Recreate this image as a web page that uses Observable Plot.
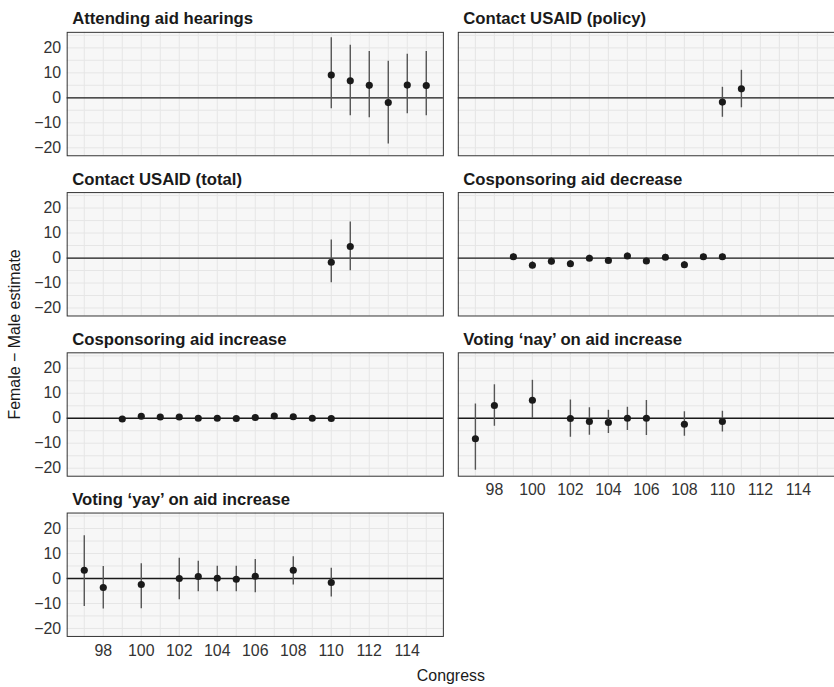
<!DOCTYPE html>
<html>
<head>
<meta charset="utf-8">
<script src="https://cdn.jsdelivr.net/npm/d3@7"></script>
<script src="https://cdn.jsdelivr.net/npm/@observablehq/plot@0.6"></script>
<style>
  html, body { margin: 0; padding: 0; background: #fff; overflow: hidden; }
</style>
</head>
<body>
<div id="chart"></div>
<script>
// ---- Data ----
const titles = [
  "Attending aid hearings",
  "Contact USAID (policy)",
  "Contact USAID (total)",
  "Cosponsoring aid decrease",
  "Cosponsoring aid increase",
  "Voting \u2018nay\u2019 on aid increase",
  "Voting \u2018yay\u2019 on aid increase"
];

const hearingsCongress = [110, 111, 112, 113, 114, 115];
const hearingsEst = [9.1, 6.8, 5.0, -1.9, 5.1, 4.9];
const hearingsLo  = [-4.4, -7.2, -8.0, -18.5, -6.4, -7.2];
const hearingsHi  = [24.0, 21.0, 18.5, 14.6, 17.4, 18.5];

const policyCongress = [110, 111];
const policyEst = [-1.7, 3.6];
const policyLo  = [-7.8, -4.0];
const policyHi  = [4.2, 11.0];

const totalCongress = [110, 111];
const totalEst = [-1.7, 4.6];
const totalLo  = [-9.9, -5.1];
const totalHi  = [7.2, 14.4];

const decreaseCongress = [99, 100, 101, 102, 103, 104, 105, 106, 107, 108, 109, 110];
const decreaseEst = [0.5, -2.9, -1.3, -2.3, -0.1, -1.0, 0.8, -1.2, 0.3, -2.7, 0.5, 0.5];
const decreaseLo  = [-0.8, -4.3, -2.8, -3.6, -1.3, -2.2, -0.5, -2.4, -0.9, -4.0, -0.7, -0.6];
const decreaseHi  = [1.7, -1.5, 0.2, -1.0, 1.1, 0.2, 2.0, 0.0, 1.5, -1.4, 1.6, 1.6];

const increaseCongress = [99, 100, 101, 102, 103, 104, 105, 106, 107, 108, 109, 110];
const increaseEst = [-0.3, 0.8, 0.5, 0.5, 0.0, 0.0, -0.1, 0.3, 0.9, 0.6, 0.0, -0.1];
const increaseLo  = [-1.1, 0.0, -0.3, -0.3, -0.8, -0.8, -0.9, -0.5, 0.1, -0.2, -0.8, -0.9];
const increaseHi  = [0.5, 1.6, 1.3, 1.3, 0.8, 0.8, 0.7, 1.1, 1.7, 1.4, 0.8, 0.7];

const nayCongress = [97, 98, 100, 102, 103, 104, 105, 106, 108, 110];
const nayEst = [-8.2, 5.1, 7.2, -0.1, -1.3, -1.7, 0.0, 0.0, -2.4, -1.3];
const nayLo  = [-20.8, -3.2, -0.1, -7.6, -6.8, -6.1, -4.9, -6.9, -7.2, -5.5];
const nayHi  = [5.7, 13.4, 15.2, 7.3, 4.2, 3.2, 4.4, 7.1, 2.6, 2.8];

const yayCongress = [97, 98, 100, 102, 103, 104, 105, 106, 108, 110];
const yayEst = [3.3, -3.6, -2.4, 0.0, 0.8, 0.1, -0.3, 0.9, 3.3, -1.6];
const yayLo  = [-11.2, -12.2, -12.1, -8.5, -5.3, -5.3, -5.3, -5.7, -2.6, -7.4];
const yayHi  = [17.1, 4.8, 5.9, 8.1, 6.9, 4.9, 4.9, 7.6, 8.7, 4.1];

const xTicks = [98, 100, 102, 104, 106, 108, 110, 112, 114];
const xGrid = [97, 98, 99, 100, 101, 102, 103, 104, 105, 106, 107, 108, 109, 110, 111, 112, 113, 114, 115];
const yTicks = [-20, -10, 0, 10, 20];
const yGrid = [-20, -15, -10, -5, 0, 5, 10, 15, 20, 25];

// ---- Build a long table for the library ----
const series = [
  [hearingsCongress, hearingsEst, hearingsLo, hearingsHi],
  [policyCongress, policyEst, policyLo, policyHi],
  [totalCongress, totalEst, totalLo, totalHi],
  [decreaseCongress, decreaseEst, decreaseLo, decreaseHi],
  [increaseCongress, increaseEst, increaseLo, increaseHi],
  [nayCongress, nayEst, nayLo, nayHi],
  [yayCongress, yayEst, yayLo, yayHi]
];
const rows = [];
series.forEach(([c, e, lo, hi], i) => {
  c.forEach((x, j) => rows.push({panel: i, col: i % 2, row: Math.floor(i / 2), congress: x, est: e[j], lo: lo[j], hi: hi[j]}));
});
const panelRows = titles.map((t, i) => ({title: t, col: i % 2, row: Math.floor(i / 2)}));

const minus = d => d < 0 ? "\u2212" + Math.abs(d) : String(d);

const chart = Plot.plot({
  width: 838,
  height: 687,
  marginLeft: 67,
  marginRight: 0,
  marginTop: 31.7,
  marginBottom: 47,
  style: {fontFamily: "'Liberation Sans', Arial, Helvetica, sans-serif", fontSize: "16px", color: "#333", background: "#fff"},
  x: {domain: [96.1, 115.9]},
  y: {domain: [-23.2, 26.2]},
  fx: {axis: null, paddingInner: 0.0394, paddingOuter: 0},
  fy: {axis: null, paddingInner: 0.227, paddingOuter: 0},
  marks: [
    Plot.frame({fill: "#f7f7f7"}),
    Plot.gridX(xGrid, {stroke: "#e6e6e6", strokeOpacity: 1, strokeWidth: 1}),
    Plot.gridY(yGrid, {stroke: "#e6e6e6", strokeOpacity: 1, strokeWidth: 1}),
    Plot.ruleY([0], {stroke: "#1a1a1a", strokeWidth: 1.3}),
    Plot.ruleX(rows, {x: "congress", y1: "lo", y2: "hi", fx: "col", fy: "row", stroke: "#555", strokeWidth: 1.4}),
    Plot.dot(rows, {x: "congress", y: "est", fx: "col", fy: "row", r: 3.6, fill: "#1a1a1a", stroke: "none"}),
    Plot.frame({stroke: "#333", strokeWidth: 1}),
    Plot.text(panelRows, {fx: "col", fy: "row", text: "title", frameAnchor: "top-left", dx: 5, dy: -8, lineAnchor: "bottom", fontWeight: "bold", fontSize: 16.8, fill: "#1a1a1a"}),
    Plot.axisX({ticks: xTicks, tickSize: 0, tickPadding: 8, fontSize: 16, label: null, color: "#333"}),
    Plot.axisY({ticks: yTicks, tickSize: 0, tickPadding: 6, fontSize: 16, tickFormat: minus, label: null, color: "#333"}),
    Plot.text(["Congress"], {facet: "super", frameAnchor: "bottom", dy: 40, lineAnchor: "middle", fontSize: 16, fill: "#1a1a1a"}),
    Plot.text(["Female \u2212 Male estimate"], {facet: "super", frameAnchor: "left", dx: -53, textAnchor: "middle", rotate: -90, fontSize: 16, fill: "#1a1a1a"})
  ]
});
document.getElementById("chart").appendChild(chart);
</script>
</body>
</html>
